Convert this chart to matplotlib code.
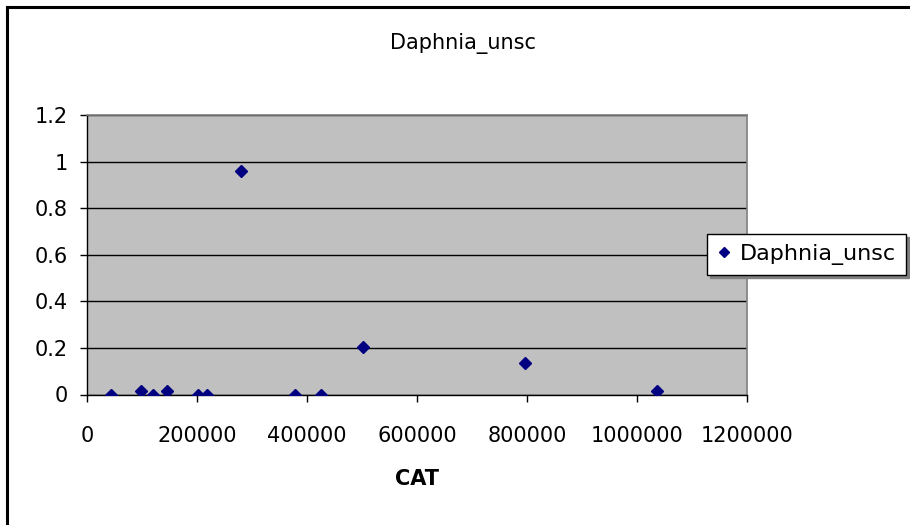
import matplotlib
matplotlib.use("Agg")
import matplotlib.pyplot as plt
from matplotlib.lines import Line2D

# CAT concentration vs Daphnia_unsc response
cat = [44000, 98000, 120000, 145000, 202000, 219000, 280000,
       378000, 425000, 501000, 796000, 1036000]
daphnia_unsc = [0, 0.015, 0, 0.015, 0, 0, 0.958,
                0, 0, 0.203, 0.134, 0.015]

x_ticks = [0, 200000, 400000, 600000, 800000, 1000000, 1200000]
y_ticks = [0, 0.2, 0.4, 0.6, 0.8, 1, 1.2]
y_tick_labels = ["0", "0.2", "0.4", "0.6", "0.8", "1", "1.2"]

plt.rcParams["font.family"] = ["DejaVu Sans"]
FS = 15

W, H = 910, 525
fig = plt.figure(figsize=(W / 100, H / 100), dpi=100)
fig.patch.set_facecolor("white")

ax = fig.add_axes([87 / W, (H - 394.5) / H, 660 / W, 279.5 / H])
ax.set_facecolor("#C0C0C0")
ax.set_xlim(0, 1200000)
ax.set_ylim(0, 1.2)

ax.set_axisbelow(True)
ax.yaxis.grid(True, color="black", linewidth=1.0)

ax.plot(cat, daphnia_unsc, linestyle="none", marker="D", markersize=6.6,
        color="#000080", label="Daphnia_unsc", zorder=3)

for side in ["top", "right"]:
    ax.spines[side].set_color("#808080")
    ax.spines[side].set_linewidth(1.2)
for side in ["left", "bottom"]:
    ax.spines[side].set_color("black")
    ax.spines[side].set_linewidth(1.0)

ax.set_xticks(x_ticks)
ax.set_xticklabels([str(v) for v in x_ticks])
ax.set_yticks(y_ticks)
ax.set_yticklabels(y_tick_labels)
ax.tick_params(axis="both", direction="out", length=5, width=1.0,
               labelsize=FS, colors="black")
ax.tick_params(axis="x", pad=18)
ax.tick_params(axis="y", pad=9)

ax.set_xlabel("CAT", fontsize=FS, fontweight="bold", labelpad=16)
fig.text(463 / W, 1 - 43 / H, "Daphnia_unsc", ha="center", va="center",
         fontsize=FS)

leg = fig.legend(loc="center left", bbox_to_anchor=(707 / W, 1 - 254.5 / H),
                 fontsize=16, frameon=True, fancybox=False,
                 shadow={"color": "#808080", "alpha": 1},
                 handlelength=0.6, handletextpad=0.45, borderpad=0.45,
                 borderaxespad=0, markerscale=0.75)
leg.get_frame().set_edgecolor("black")
leg.get_frame().set_linewidth(1.0)
leg.get_frame().set_facecolor("white")
leg.get_frame().set_alpha(1)

# chart area border
fig.add_artist(Line2D([6.5 / W, 6.5 / W], [0, 1 - 7 / H], color="black",
                      linewidth=2.2, transform=fig.transFigure))
fig.add_artist(Line2D([6.5 / W, 1], [1 - 7 / H, 1 - 7 / H], color="black",
                      linewidth=2.2, transform=fig.transFigure))

fig.savefig("out.png", dpi=100)
